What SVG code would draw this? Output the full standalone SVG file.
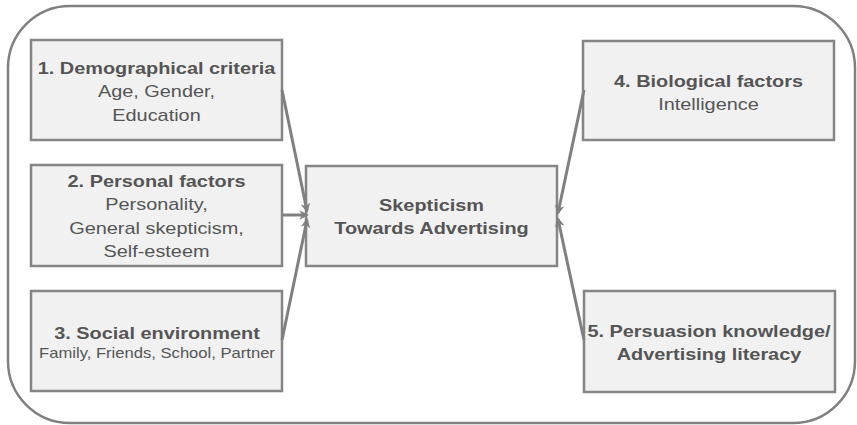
<svg xmlns="http://www.w3.org/2000/svg" width="857" height="425" viewBox="0 0 857 425">
  <style>
    .frame { fill: #ffffff; stroke: #808080; stroke-width: 2.5; }
    .box { fill: #f1f1f1; stroke: #858585; stroke-width: 2.5; }
    .t { font-family: "Liberation Sans", Arial, sans-serif; fill: #555555; text-anchor: middle; }
    .h { font-size: 17px; font-weight: bold; }
    .s { font-size: 17px; }
    .xs { font-size: 14.2px; }
    .edge { stroke: #808080; stroke-width: 3; fill: none; marker-end: url(#arrow); }
  </style>
  <defs>
    <marker id="arrow" viewBox="0 0 10 10" refX="8" refY="5" markerWidth="3.2" markerHeight="3.2" orient="auto" markerUnits="strokeWidth">
      <path d="M0,0 L10,5 L0,10 L3,5 Z" fill="#808080"/>
    </marker>
  </defs>

  <rect class="frame" x="8" y="6" width="847" height="417" rx="62" ry="62"/>

  <!-- labels use a wide setting: each label group is centred at its box and stretched horizontally -->
  <g id="node-demographic">
    <rect class="box" x="31" y="40" width="251" height="100"/>
    <g transform="translate(156.5,0) scale(1.17,1)">
      <text class="t h" x="0" y="74">1. Demographical criteria</text>
      <text class="t s" x="0" y="97">Age, Gender,</text>
      <text class="t s" x="0" y="121">Education</text>
    </g>
  </g>

  <g id="node-personal">
    <rect class="box" x="31" y="165" width="251" height="101"/>
    <g transform="translate(156.5,0) scale(1.17,1)">
      <text class="t h" x="0" y="187">2. Personal factors</text>
      <text class="t s" x="0" y="210">Personality,</text>
      <text class="t s" x="0" y="234">General skepticism,</text>
      <text class="t s" x="0" y="257">Self-esteem</text>
    </g>
  </g>

  <g id="node-social">
    <rect class="box" x="31" y="291" width="251" height="100"/>
    <g transform="translate(157,0) scale(1.17,1)">
      <text class="t h" x="0" y="339">3. Social environment</text>
      <text class="t xs" x="0" y="358">Family, Friends, School, Partner</text>
    </g>
  </g>

  <g id="node-skepticism">
    <rect class="box" x="306" y="166" width="251" height="100"/>
    <g transform="translate(431.5,0) scale(1.17,1)">
      <text class="t h" x="0" y="211">Skepticism</text>
      <text class="t h" x="0" y="234">Towards Advertising</text>
    </g>
  </g>

  <g id="node-biological">
    <rect class="box" x="583" y="41" width="251" height="99"/>
    <g transform="translate(708.5,0) scale(1.17,1)">
      <text class="t h" x="0" y="87">4. Biological factors</text>
      <text class="t s" x="0" y="110">Intelligence</text>
    </g>
  </g>

  <g id="node-persuasion">
    <rect class="box" x="584" y="291" width="251" height="101"/>
    <g transform="translate(709,0) scale(1.17,1)">
      <text class="t h" x="0" y="337">5. Persuasion knowledge/</text>
      <text class="t h" x="0" y="360">Advertising literacy</text>
    </g>
  </g>

  <g id="connectors">
    <line class="edge" x1="282" y1="90" x2="307" y2="211"/>
    <line class="edge" x1="282" y1="215" x2="307" y2="215"/>
    <line class="edge" x1="282" y1="340" x2="307" y2="220"/>
    <line class="edge" x1="584" y1="90" x2="558" y2="213"/>
    <line class="edge" x1="584" y1="340" x2="558" y2="219"/>
  </g>
</svg>
